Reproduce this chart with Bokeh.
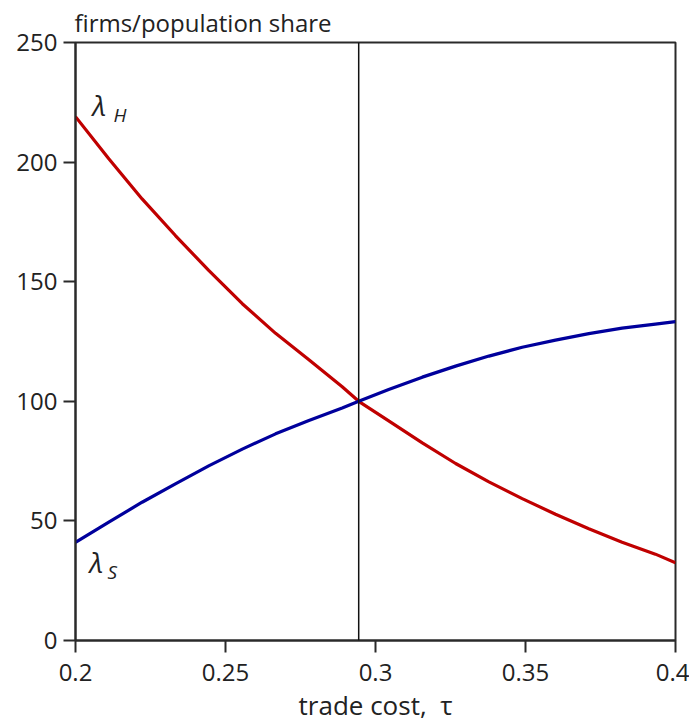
from bokeh.plotting import figure
from bokeh.models import Range1d, FixedTicker, Span
from bokeh.core.properties import value
from bokeh.embed import file_html
from bokeh.resources import INLINE

# ---- data ----
tau = [0.2, 0.2111, 0.2222, 0.2333, 0.2444, 0.2556, 0.2667, 0.2778, 0.2889, 0.2944,
       0.3044, 0.3156, 0.3267, 0.3378, 0.3489, 0.36, 0.3711, 0.3822, 0.3933, 0.4]
lambda_H = [219, 201.4, 184.6, 169.3, 154.7, 140.8, 128.4, 117.4, 106.1, 100,
            91.8, 82.6, 74, 66.3, 59.3, 52.8, 46.7, 41.1, 36.1, 32.5]
lambda_S = [41, 49.5, 57.8, 65.5, 73, 80, 86.4, 92, 97.2, 100,
            104.9, 110.1, 114.7, 118.9, 122.6, 125.6, 128.3, 130.6, 132.3, 133.3]
tau_star = 0.2944

x_ticks = [0.2, 0.25, 0.3, 0.35, 0.4]
x_tick_labels = ["0.2", "0.25", "0.3", "0.35", "0.4"]
y_ticks = [0, 50, 100, 150, 200, 250]
y_tick_labels = ["0", "50", "100", "150", "200", "250"]

FONT = "Open Sans"
TXT = "#222222"
AX = "#2a2a2a"

p = figure(frame_width=600, frame_height=598,
           x_range=Range1d(0.2, 0.4), y_range=Range1d(0, 250),
           output_backend="svg", toolbar_location=None,
           min_border_left=75, min_border_right=14,
           min_border_top=42, min_border_bottom=80,
           title="firms/population share")

p.title.text_font = FONT
p.title.text_font_size = "24px"
p.title.text_font_style = "normal"
p.title.text_color = TXT
p.title.align = "left"
p.title.standoff = 7
p.title.offset = -1

p.grid.visible = False
p.outline_line_color = AX
p.outline_line_width = 2
p.background_fill_color = "white"
p.border_fill_color = "white"

for ax in (p.xaxis[0], p.yaxis[0]):
    ax.axis_line_color = AX
    ax.axis_line_width = 2
    ax.major_tick_line_color = AX
    ax.major_tick_line_width = 2
    ax.major_tick_out = 12
    ax.major_tick_in = 0
    ax.minor_tick_line_color = None
    ax.major_label_text_font = FONT
    ax.major_label_text_font_size = "24px"
    ax.major_label_text_color = TXT

p.xaxis.ticker = FixedTicker(ticks=x_ticks)
p.yaxis.ticker = FixedTicker(ticks=y_ticks)
p.xaxis.major_label_overrides = {t: l for t, l in zip(x_ticks, x_tick_labels)}
p.yaxis.major_label_overrides = {t: l for t, l in zip(y_ticks, y_tick_labels)}
p.xaxis.major_label_standoff = 11
p.yaxis.major_label_standoff = 6

p.xaxis.axis_label = "trade cost,\u00a0\u00a0τ"
p.xaxis.axis_label_text_font = FONT
p.xaxis.axis_label_text_font_size = "26px"
p.xaxis.axis_label_text_font_style = "normal"
p.xaxis.axis_label_text_color = TXT
p.xaxis.axis_label_standoff = 3

p.add_layout(Span(location=tau_star, dimension="height", line_color="#111111", line_width=1.5))

p.line(tau, lambda_H, line_color="#c00000", line_width=3.2)
p.line(tau, lambda_S, line_color="#00009c", line_width=3.2)

# curve labels
p.text(x=[0.2057], y=[224], text=["λ"], text_font=value(FONT), text_font_size="28px",
       text_font_style="italic", text_color=TXT, text_baseline="middle", text_align="left")
p.text(x=[0.2127], y=[219.5], text=["H"], text_font=value(FONT), text_font_size="19px",
       text_font_style="italic", text_color=TXT, text_baseline="middle", text_align="left")
p.text(x=[0.2047], y=[33], text=["λ"], text_font=value(FONT), text_font_size="28px",
       text_font_style="italic", text_color=TXT, text_baseline="middle", text_align="left")
p.text(x=[0.2107], y=[28.5], text=["S"], text_font=value(FONT), text_font_size="19px",
       text_font_style="italic", text_color=TXT, text_baseline="middle", text_align="left")

open("out.html", "w").write(file_html(p, INLINE))
